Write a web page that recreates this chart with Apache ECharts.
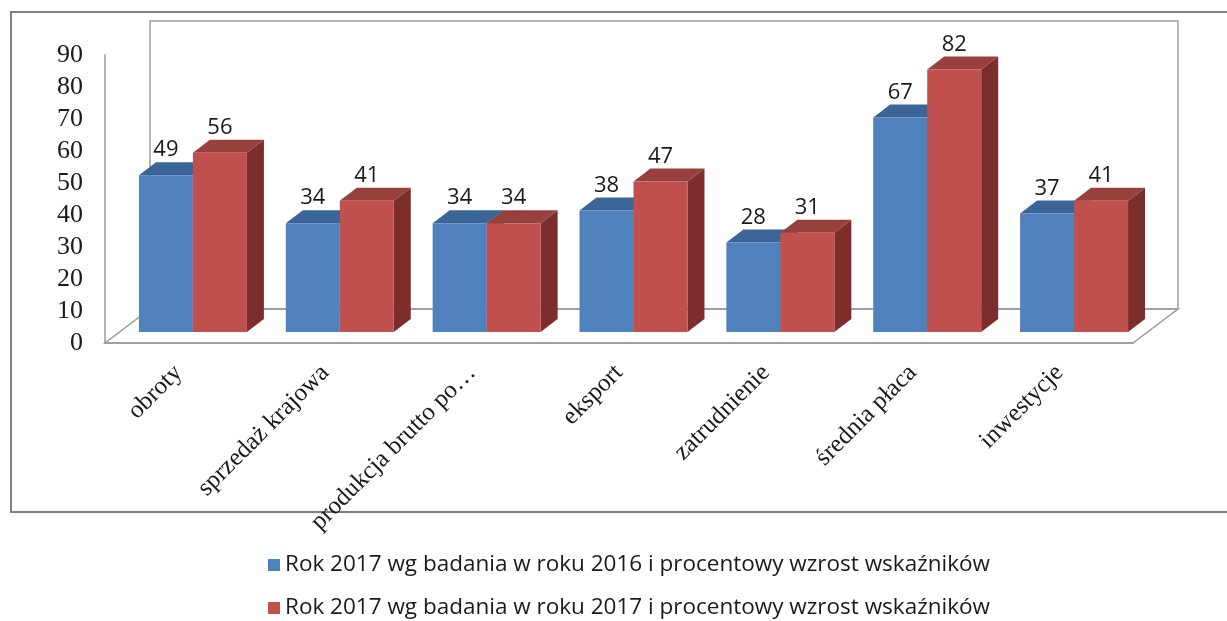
<!DOCTYPE html>
<html>
<head>
<meta charset="utf-8">
<script src="https://cdn.jsdelivr.net/npm/echarts@6/dist/echarts.min.js"></script>
<style>
  html, body { margin: 0; padding: 0; background: #fff; }
  #chart { width: 1227px; height: 621px; }
</style>
</head>
<body>
<div id="chart"></div>
<script>
// dane
const categories = ['obroty', 'sprzedaż krajowa', 'produkcja brutto po…', 'eksport', 'zatrudnienie', 'średnia płaca', 'inwestycje']
const values2016 = [49, 34, 34, 38, 28, 67, 37]
const values2017 = [56, 41, 34, 47, 31, 82, 41]
const yTicks = [0, 10, 20, 30, 40, 50, 60, 70, 80, 90]
const seriesNames = [
  'Rok 2017 wg badania w roku 2016 i procentowy wzrost wskaźników',
  'Rok 2017 wg badania w roku 2017 i procentowy wzrost wskaźników',
]

const BLUE = { front: '#4f81bd', top: '#3b6596', side: '#30527c' }
const RED = { front: '#c0504d', top: '#98403d', side: '#7d2e2c' }
const WALL = '#9a9a9a'

// perspektywa: glebokosc podlogi / scian i przesuniecie slupkow
const FLOOR_DX = 45, FLOOR_DY = -34
const BAR_SHIFT_X = 14.5, BAR_SHIFT_Y = -11
const BAR_DX = 17, BAR_DY = -13
const BAR_RATIO = 54 / 146.9

function barRenderer(colors, slot) {
  return function (params, api) {
    const i = api.value(0)
    const v = api.value(1)
    const base = api.coord([i, 0])
    const top = api.coord([i, v])
    const band = api.size([1, 0])[0]
    const w = band * BAR_RATIO
    const x0 = base[0] + BAR_SHIFT_X + (slot === 0 ? -w : 0)
    const x1 = x0 + w
    const yb = base[1] + BAR_SHIFT_Y
    const yt = top[1] + BAR_SHIFT_Y
    return {
      type: 'group',
      children: [
        {
          type: 'polygon',
          shape: { points: [[x1, yb], [x1 + BAR_DX, yb + BAR_DY], [x1 + BAR_DX, yt + BAR_DY], [x1, yt]] },
          style: { fill: colors.side },
        },
        {
          type: 'polygon',
          shape: { points: [[x0, yt], [x1, yt], [x1 + BAR_DX, yt + BAR_DY], [x0 + BAR_DX, yt + BAR_DY]] },
          style: { fill: colors.top },
        },
        {
          type: 'rect',
          shape: { x: x0, y: yt, width: w, height: yb - yt },
          style: { fill: colors.front },
        },
        {
          type: 'text',
          x: (x0 + x1) / 2,
          y: yt + BAR_DY - 1,
          style: {
            text: String(v),
            align: 'center',
            verticalAlign: 'bottom',
            fill: '#1a1a1a',
            font: '22px "Open Sans", sans-serif',
          },
        },
      ],
    }
  }
}

function frameRenderer(params, api) {
  const cs = params.coordSys
  const xl = cs.x, xr = cs.x + cs.width
  const yt = cs.y, yb = cs.y + cs.height
  const line = { stroke: WALL, lineWidth: 1.5, fill: null }
  return {
    type: 'group',
    silent: true,
    children: [
      {
        type: 'polygon',
        shape: { points: [[xl, yb], [xr, yb], [xr + FLOOR_DX, yb + FLOOR_DY], [xl + FLOOR_DX, yb + FLOOR_DY]] },
        style: line,
      },
      {
        type: 'rect',
        shape: { x: xl + FLOOR_DX, y: yt + FLOOR_DY, width: cs.width, height: cs.height },
        style: line,
      },
    ],
  }
}

const chart = echarts.init(document.getElementById('chart'), null, { renderer: 'canvas' })

chart.setOption({
  backgroundColor: '#fff',
  animation: false,
  graphic: [
    {
      type: 'rect',
      shape: { x: 11, y: 12, width: 1240, height: 500 },
      style: { fill: null, stroke: '#808080', lineWidth: 2 },
      silent: true,
    },
  ],
  legend: {
    data: seriesNames,
    orient: 'vertical',
    left: 268,
    top: 552,
    bottom: 0,
    padding: 0,
    itemGap: 17,
    itemWidth: 12,
    itemHeight: 12,
    icon: 'rect',
    textStyle: { fontSize: 22.5, lineHeight: 26, fontFamily: 'Open Sans', color: '#1a1a1a' },
  },
  grid: { left: 105, right: 94, top: 55, bottom: 278, containLabel: false },
  xAxis: {
    type: 'category',
    data: categories,
    axisLine: { show: true, lineStyle: { color: WALL, width: 1.5 } },
    axisTick: { show: false },
    axisLabel: {
      rotate: 45,
      margin: 26,
      interval: 0,
      fontFamily: 'Liberation Serif',
      fontSize: 25,
      color: '#1a1a1a',
    },
  },
  yAxis: {
    type: 'value',
    min: yTicks[0],
    max: yTicks[yTicks.length - 1],
    interval: 10,
    axisLine: { show: true, lineStyle: { color: WALL, width: 1.5 } },
    axisTick: { show: false },
    splitLine: { show: false },
    axisLabel: {
      margin: 22,
      fontFamily: 'Liberation Serif',
      fontSize: 26,
      color: '#1a1a1a',
    },
  },
  series: [
    {
      name: 'frame',
      type: 'custom',
      renderItem: frameRenderer,
      data: [[0, 0]],
      silent: true,
      z: 1,
    },
    {
      name: seriesNames[0],
      type: 'custom',
      renderItem: barRenderer(BLUE, 0),
      itemStyle: { color: BLUE.front },
      encode: { x: 0, y: 1 },
      data: values2016.map((v, i) => [i, v]),
      z: 2,
    },
    {
      name: seriesNames[1],
      type: 'custom',
      renderItem: barRenderer(RED, 1),
      itemStyle: { color: RED.front },
      encode: { x: 0, y: 1 },
      data: values2017.map((v, i) => [i, v]),
      z: 3,
    },
  ],
})
</script>
</body>
</html>
